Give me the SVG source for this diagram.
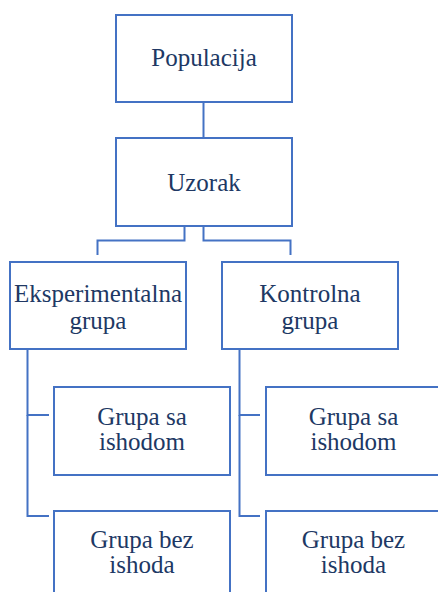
<svg xmlns="http://www.w3.org/2000/svg" width="438" height="592" viewBox="0 0 438 592">
<rect width="438" height="592" fill="#fff"/>
<g id="connectors" fill="none" stroke="#4472c4" stroke-width="2">
<line x1="203.5" y1="102" x2="203.5" y2="138"/>
<polyline points="184.5,226 184.5,240.5 97.5,240.5 97.5,255"/>
<polyline points="203.5,226 203.5,240.5 290.5,240.5 290.5,255"/>
<polyline points="49,415 27.5,415 27.5,349"/>
<polyline points="27.5,415 27.5,516 49,516"/>
<polyline points="260,415 239.5,415 239.5,349"/>
<polyline points="239.5,415 239.5,516 260,516"/>
</g>
<g id="nodes" font-family="Liberation Serif" font-size="25" text-anchor="middle">
<g id="populacija"><rect x="116" y="15" width="176" height="87" fill="#fff" stroke="#4472c4" stroke-width="2"/><text x="204" y="66" fill="#203864">Populacija</text></g>
<g id="uzorak"><rect x="116" y="138" width="176" height="88" fill="#fff" stroke="#4472c4" stroke-width="2"/><text x="204" y="191" fill="#203864">Uzorak</text></g>
<g id="eksperimentalna"><rect x="10" y="262" width="176" height="87" fill="#fff" stroke="#4472c4" stroke-width="2"/><text x="98" y="301.5" fill="#203864">Eksperimentalna</text><text x="98" y="328.5" fill="#203864">grupa</text></g>
<g id="kontrolna"><rect x="222" y="262" width="176" height="87" fill="#fff" stroke="#4472c4" stroke-width="2"/><text x="310" y="301.5" fill="#203864">Kontrolna</text><text x="310" y="328.5" fill="#203864">grupa</text></g>
<g id="eksp-sa"><rect x="54" y="387" width="176" height="88" fill="#fff" stroke="#4472c4" stroke-width="2"/><text x="142" y="425" fill="#203864">Grupa sa</text><text x="142" y="450" fill="#203864">ishodom</text></g>
<g id="eksp-bez"><rect x="54" y="511" width="176" height="90" fill="#fff" stroke="#4472c4" stroke-width="2"/><text x="142" y="548" fill="#203864">Grupa bez</text><text x="142" y="573" fill="#203864">ishoda</text></g>
<g id="kontr-sa"><rect x="266" y="387" width="176" height="88" fill="#fff" stroke="#4472c4" stroke-width="2"/><text x="353.5" y="425" fill="#203864">Grupa sa</text><text x="353.5" y="450" fill="#203864">ishodom</text></g>
<g id="kontr-bez"><rect x="266" y="511" width="176" height="90" fill="#fff" stroke="#4472c4" stroke-width="2"/><text x="353.5" y="548" fill="#203864">Grupa bez</text><text x="353.5" y="573" fill="#203864">ishoda</text></g>
</g>
</svg>
